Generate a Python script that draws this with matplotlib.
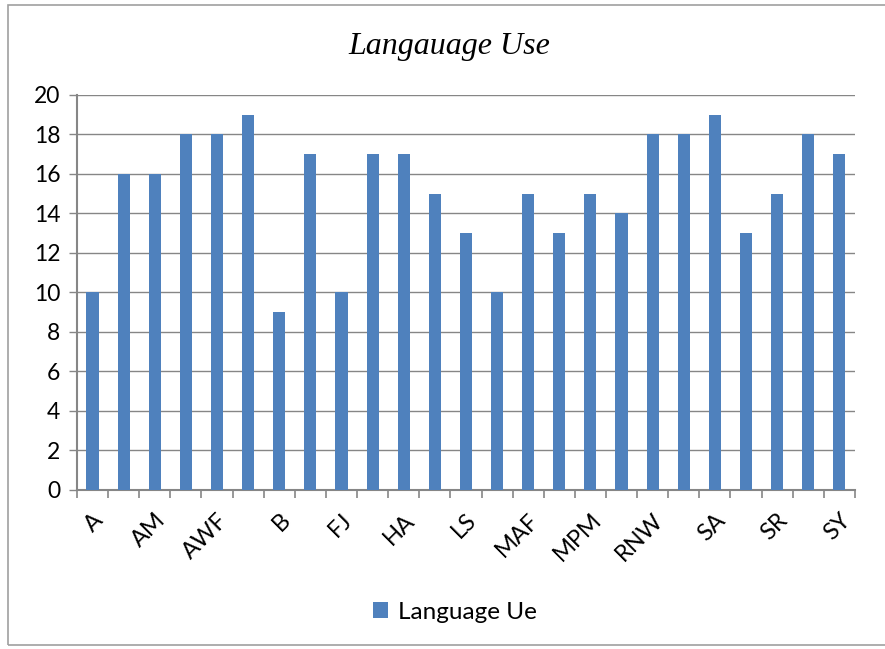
import numpy as np
import matplotlib.pyplot as plt
from matplotlib.patches import Rectangle

# only every other category name is printed on the source chart
categories = ["A", "", "AM", "", "AWF", "", "B", "", "FJ", "", "HA", "", "LS",
              "", "MAF", "", "MPM", "", "RNW", "", "SA", "", "SR", "", "SY"]
values = [10, 16, 16, 18, 18, 19, 9, 17, 10, 17, 17, 15, 13, 10, 15, 13, 15,
          14, 18, 18, 19, 13, 15, 18, 17]
series_name = "Language Ue"
title = "Langauage Use"

bar_color = "#4F81BD"
grid_color = "#868686"
font = "Lato"

fig = plt.figure(figsize=(8.85, 6.49), dpi=100)
ax = fig.add_axes([0.087, 0.245, 0.879, 0.609])

x = np.arange(len(values))
ax.bar(x, values, width=0.39, color=bar_color, label=series_name, zorder=3)

ax.set_xlim(-0.5, len(values) - 0.5)
ax.set_ylim(0, 20)
ax.set_yticks(np.arange(0, 21, 2))
ax.yaxis.grid(True, color=grid_color, linewidth=1.0, zorder=0)

# ticks sit on category boundaries, labels under the odd bars
ax.set_xticks(np.arange(-0.5, len(values), 1.0))
ax.set_xticklabels([])
ax.set_xticks(x[::2], minor=True)
ax.set_xticklabels([c for c in categories[::2]], minor=True, rotation=45,
                   ha="right", va="top", rotation_mode="anchor",
                   fontsize=17, family=font)
ax.tick_params(axis="x", which="minor", length=0, pad=14)
ax.tick_params(axis="x", which="major", length=6, color=grid_color, width=1.2)
ax.tick_params(axis="y", length=6, color=grid_color, width=1.0, pad=6,
               labelsize=16.5)
for lbl in ax.get_yticklabels():
    lbl.set_family(font)

for side in ["top", "right"]:
    ax.spines[side].set_visible(False)
for side in ["left", "bottom"]:
    ax.spines[side].set_color(grid_color)
    ax.spines[side].set_linewidth(1.5)

fig.text(0.508, 0.928, title, ha="center", va="center", fontsize=23,
         style="italic", family="Liberation Serif")

fig.legend(loc="center", bbox_to_anchor=(0.514, 0.057), frameon=False,
           prop={"family": font, "size": 17.5},
           handlelength=0.6, handleheight=0.6, handletextpad=0.4)

fig.patches.append(Rectangle((0.009, 0.006), 0.995, 0.987, transform=fig.transFigure,
                             fill=False, edgecolor="#A0A0A0", linewidth=1.2))

fig.savefig("out.png", dpi=100)
